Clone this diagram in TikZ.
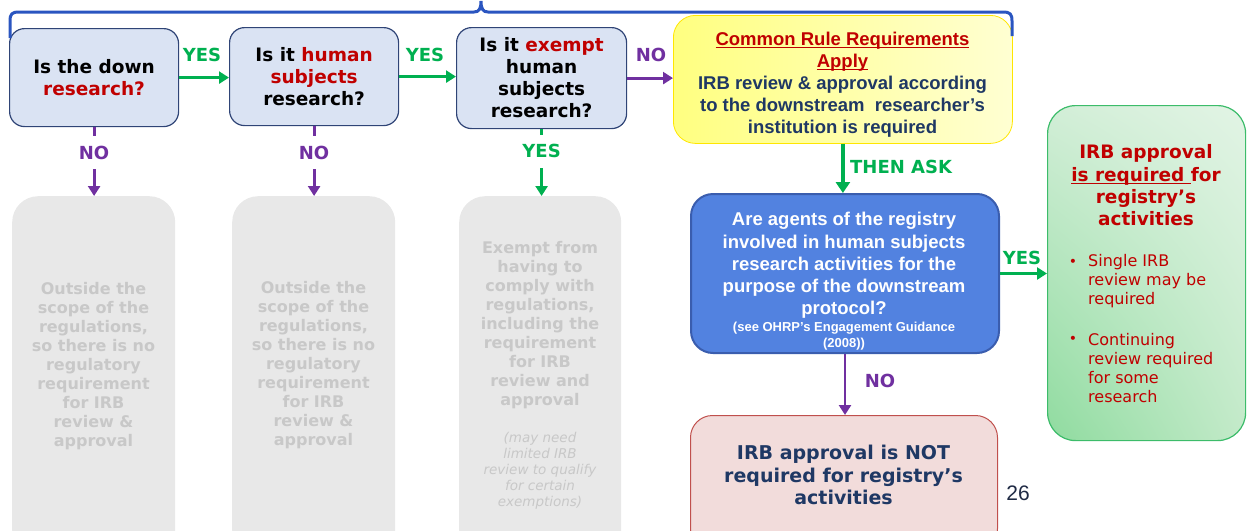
\documentclass[tikz,border=0pt]{standalone}
\usepackage{fontspec}
\setmainfont{DejaVu Sans}
\newfontfamily\arialf{Liberation Sans}
\usetikzlibrary{arrows.meta,calc,shadings}

\definecolor{qfill}{HTML}{DAE3F3}
\definecolor{qline}{HTML}{2F4476}
\definecolor{redtxt}{HTML}{C00000}
\definecolor{grn}{HTML}{00B050}
\definecolor{purp}{HTML}{7030A0}
\definecolor{navy}{HTML}{1F3864}
\definecolor{bracecol}{HTML}{2A55C0}
\definecolor{bluefill}{HTML}{5282E0}
\definecolor{blueline}{HTML}{3A5DAE}
\definecolor{greyfill}{HTML}{E8E8E8}
\definecolor{greytxt}{HTML}{C8C8C8}
\definecolor{pinkfill}{HTML}{F2DCDB}
\definecolor{pinkline}{HTML}{C0504D}
\definecolor{yline}{HTML}{FFE600}
\definecolor{yleft}{HTML}{FFFF80}
\definecolor{yright}{HTML}{FFFFD2}
\definecolor{gline}{HTML}{3CBC6A}
\definecolor{gul}{HTML}{D2EED7}
\definecolor{gur}{HTML}{E2F4E5}
\definecolor{gll}{HTML}{8FDB9F}
\definecolor{glr}{HTML}{C3EAC9}
\definecolor{pagenum}{HTML}{1F2A44}

% underline drawn close under the baseline
\newcommand\lineunder[1]{\setbox0\hbox{#1}\rlap{\rule[-2.8pt]{\wd0}{1.4pt}}\box0}

\tikzset{
  qbox/.style={draw=qline, fill=qfill, line width=1.2pt, rounded corners=15pt,
    align=center, inner sep=0pt, anchor=north west,
    font={\bfseries\fontsize{18.5}{22}\selectfont}},
  greybox/.style={fill=greyfill, rounded corners=26pt, inner sep=0pt, anchor=north west},
  greytext/.style={text=greytxt, align=center, inner sep=0pt,
    font={\bfseries\fontsize{16}{19}\selectfont}},
  lbl/.style={inner sep=0pt, font={\bfseries\fontsize{18}{18}\selectfont}},
  gap/.style={fill=white, inner xsep=2pt, inner ysep=0pt, minimum height=33pt},
  yesline/.style={draw=grn, line width=2.8pt, -{Triangle[width=12pt,length=10pt]}},
  noline/.style={draw=purp, line width=2.8pt, -{Triangle[width=12pt,length=10pt]}},
}

\begin{document}
\begin{tikzpicture}[x=1pt,y=-1pt]
\useasboundingbox (0,0) rectangle (1247,530);

% question boxes
\node[qbox, minimum width=169pt, minimum height=98pt] (A) at (9,28)
  {Is the down\\\textcolor{redtxt}{research?}};
\node[qbox, minimum width=169pt, minimum height=98pt] (B) at (229,27)
  {Is it \textcolor{redtxt}{human}\\\textcolor{redtxt}{subjects}\\research?};
\node[qbox, minimum width=170pt, minimum height=101pt] (C) at (456,27)
  {Is it \textcolor{redtxt}{exempt}\\human\\subjects\\research?};

% Common Rule box
\node[draw=yline, line width=0.8pt, left color=yleft, right color=yright,
  rounded corners=22pt, minimum width=339pt, minimum height=128pt,
  inner sep=0pt, anchor=north west] (D) at (673,15) {};
\node[align=center, inner sep=0pt, font={\arialf\bfseries\fontsize{18.5}{22}\selectfont}]
  (Dtext) at (842.5,84.5)
  {\textcolor{redtxt}{\lineunder{Common Rule Requirements}}\\
   \textcolor{redtxt}{\lineunder{Apply}}\\
   \textcolor{navy}{IRB review \& approval according}\\
   \textcolor{navy}{to the downstream\ \ researcher’s}\\
   \textcolor{navy}{institution is required}};

% engagement question
\node[draw=blueline, fill=bluefill, line width=2pt, rounded corners=22pt,
  minimum width=308pt, minimum height=159pt, inner sep=0pt, anchor=north west]
  (E) at (690,193) {};
\node[align=center, inner sep=0pt, text=white,
  font={\arialf\bfseries\fontsize{18.5}{22.25}\selectfont}] (Emain) at (844,265.5)
  {Are agents of the registry\\involved in human subjects\\research activities for the\\
   purpose of the downstream\\protocol?};
\node[align=center, inner sep=0pt, text=white,
  font={\arialf\bfseries\fontsize{13}{16}\selectfont}] (Esmall) at (844,336.5)
  {(see OHRP’s Engagement Guidance\\(2008))};

% IRB required box
\node[draw=gline, line width=1.2pt, rounded corners=28pt,
  upper left=gul, upper right=gur, lower left=gll, lower right=glr,
  minimum width=198pt, minimum height=335pt, inner sep=0pt, anchor=north west]
  (F) at (1047,105) {};
\node[align=center, inner sep=0pt, text=redtxt,
  font={\bfseries\fontsize{18.5}{22.3}\selectfont}] (Ftitle) at (1146,185.5)
  {IRB approval\\\lineunder{is required\ }for\\registry’s\\activities};
\node[align=left, inner sep=0pt, anchor=west, text=redtxt,
  font={\fontsize{16}{19}\selectfont}] (Fb1) at (1088,281)
  {Single IRB\\review may be\\required};
\node[align=left, inner sep=0pt, anchor=west, text=redtxt,
  font={\fontsize{16}{19}\selectfont}] (Fb2) at (1088,368)
  {Continuing\\review required\\for some\\research};
\node[inner sep=0pt, text=redtxt, font={\fontsize{14}{14}\selectfont}] (Fd1) at (1073,263) {•};
\node[inner sep=0pt, text=redtxt, font={\fontsize{14}{14}\selectfont}] (Fd2) at (1073,340) {•};

% IRB not required box
\node[draw=pinkline, fill=pinkfill, line width=1pt, rounded corners=22pt,
  minimum width=307pt, minimum height=135pt, inner sep=0pt, anchor=north west]
  (G) at (690,415) {};
\node[align=center, inner sep=0pt, text=navy,
  font={\bfseries\fontsize{19}{22.5}\selectfont}] (Gtext) at (843.5,475)
  {IRB approval is NOT\\required for registry’s\\activities};

\node[inner sep=0pt, text=pagenum, font={\arialf\fontsize{21}{21}\selectfont}]
  (pg) at (1018,493) {26};

% faded outcome boxes
\node[greybox, minimum width=163pt, minimum height=360pt] (G1) at (12,196) {};
\node[greybox, minimum width=163pt, minimum height=360pt] (G2) at (232,196) {};
\node[greybox, minimum width=162pt, minimum height=360pt] (G3) at (459,196) {};
\node[greytext] (G1t) at (93.5,366)
  {Outside the\\scope of the\\regulations,\\so there is no\\regulatory\\requirement\\for IRB\\review \&\\approval};
\node[greytext] (G2t) at (313.5,365)
  {Outside the\\scope of the\\regulations,\\so there is no\\regulatory\\requirement\\for IRB\\review \&\\approval};
\node[greytext] (G3t) at (540,325)
  {Exempt from\\having to\\comply with\\regulations,\\including the\\requirement\\for IRB\\review and\\approval};
\node[greytext, font={\itshape\fontsize{13.5}{16}\selectfont}] (G3n) at (540,471)
  {(may need\\limited IRB\\review to qualify\\for certain\\exemptions)};

% horizontal connectors
\draw[yesline] (A.east) -- (A.east -| B.west);
\node[lbl, text=grn] (y1) at (202,55) {YES};
\draw[yesline] (B.east) -- (B.east -| C.west);
\node[lbl, text=grn] (y2) at (425,55) {YES};
\draw[noline] (C.east) -- (C.east -| D.west);
\node[lbl, text=purp] (n3) at (651,55) {NO};

% downward connectors to the faded boxes
\draw[noline] (A.south) -- node[lbl, gap, text=purp, pos=0.37] (n1) {NO} (A.south |- G1.north);
\draw[noline] (B.south) -- node[lbl, gap, text=purp, pos=0.38] (n2) {NO} (B.south |- G2.north);
\draw[yesline] (C.south) -- node[lbl, gap, text=grn, pos=0.33] (y3) {YES} (C.south |- G3.north);

% right-hand flow
\draw[draw=grn, line width=3.5pt, -{Triangle[width=14pt,length=11pt]}]
  (D.south) -- (D.south |- E.north);
\node[lbl, text=grn, anchor=west] (ask) at (850,167) {THEN ASK};
\draw[yesline] (E.east) -- (E.east -| F.west);
\node[lbl, text=grn] (y4) at (1022,258) {YES};
\draw[noline] (E.south) -- (E.south |- G.north);
\node[lbl, text=purp] (n4) at (880,381) {NO};

% bracket over the question row
\draw[bracecol, line width=3pt]
  (10,38) -- (10,21) .. controls (10,14) and (12,12) .. (19,12)
  -- (474,12) .. controls (479,12) and (481,9) .. (481,1)
  .. controls (481,9) and (483,12) .. (488,12)
  -- (1003,12) .. controls (1010,12) and (1012,14) .. (1012,21) -- (1012,36);
\end{tikzpicture}
\end{document}
